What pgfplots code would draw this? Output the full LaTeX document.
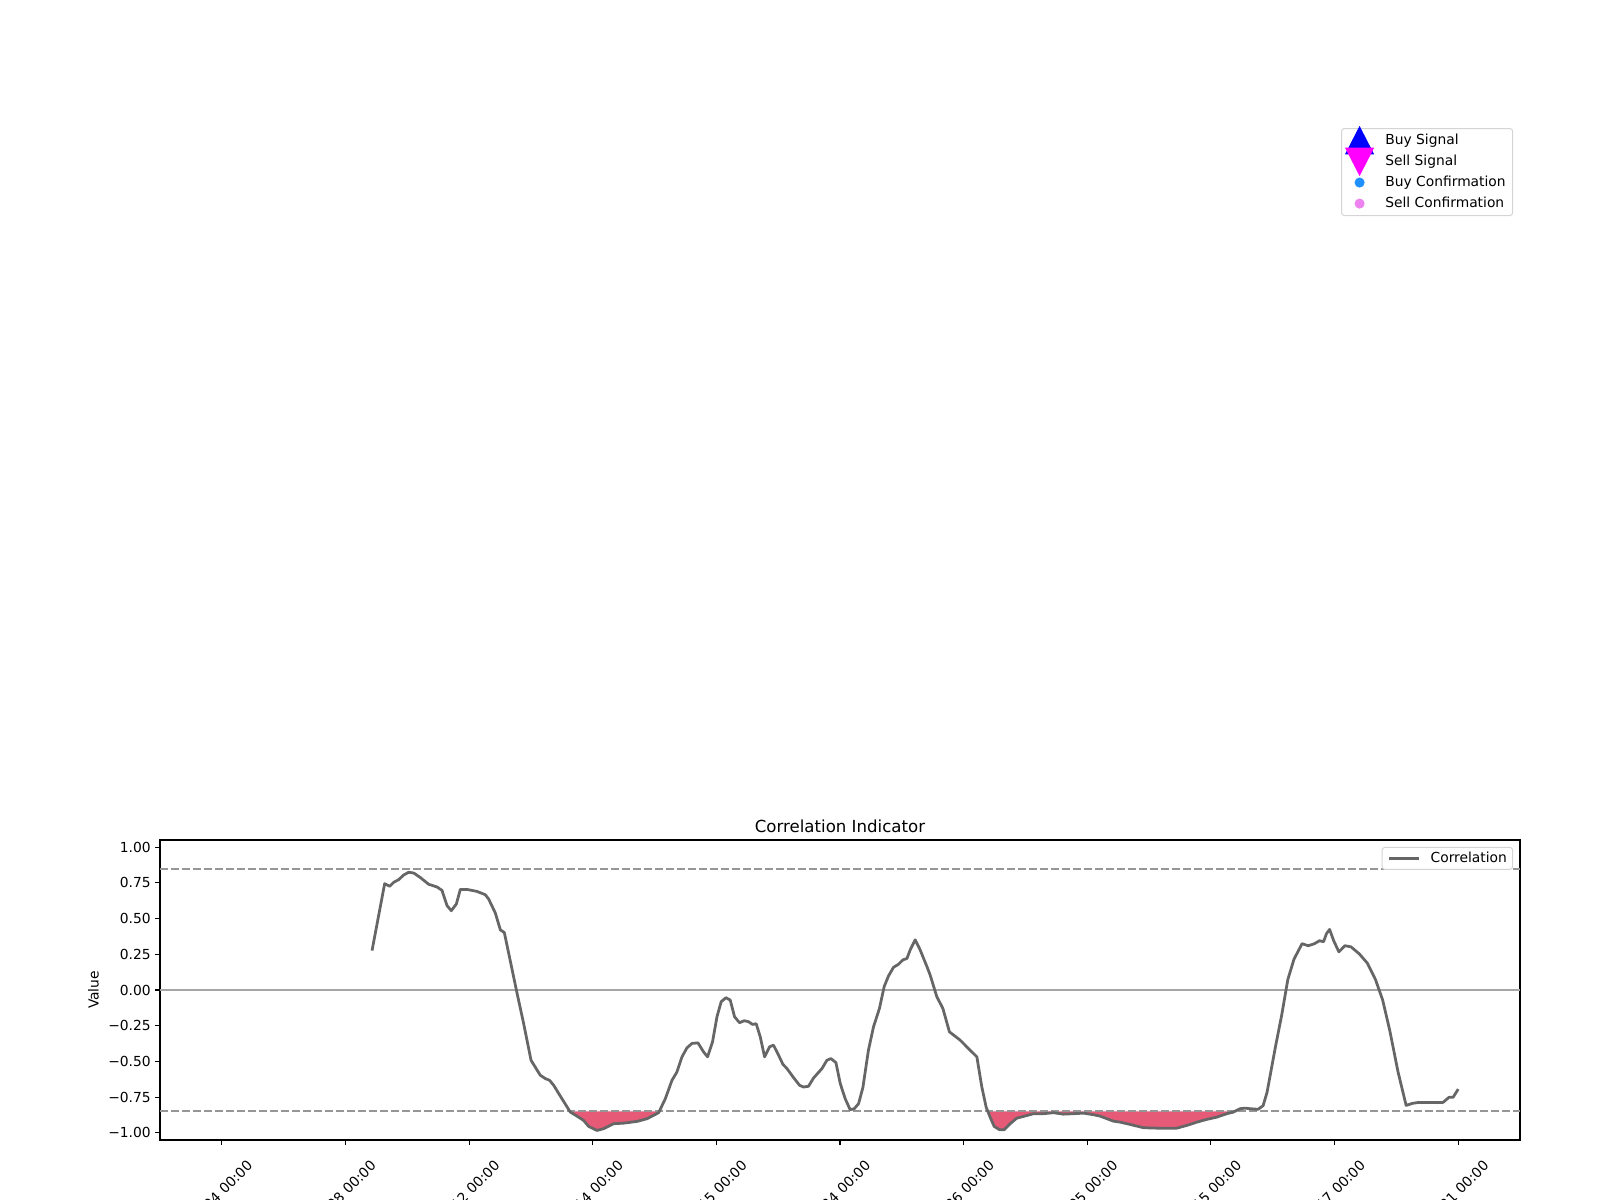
\documentclass[border=0pt]{standalone}
\usepackage{fontspec}
\setmainfont{DejaVu Sans}
\usepackage{pgfplots}
\pgfplotsset{compat=1.18}
\usepackage{pgfplotstable}
\definecolor{corrline}{RGB}{102,102,102}
\definecolor{zeroline}{RGB}{166,166,166}
\definecolor{dashline}{RGB}{150,150,150}
\definecolor{fillred}{RGB}{231,90,119}
\definecolor{legframe}{RGB}{212,212,212}
\definecolor{dodger}{RGB}{30,144,255}
\definecolor{violetc}{RGB}{238,130,238}
\definecolor{pureblue}{RGB}{0,0,255}
\definecolor{puremagenta}{RGB}{255,0,255}

\pgfplotstableread{
x y
1.215 0.276
1.317 0.744
1.358 0.726
1.390 0.754
1.430 0.772
1.471 0.805
1.511 0.824
1.552 0.819
1.606 0.787
1.673 0.740
1.741 0.721
1.781 0.697
1.822 0.590
1.856 0.555
1.897 0.602
1.929 0.704
1.983 0.704
2.064 0.690
2.131 0.667
2.158 0.637
2.212 0.539
2.253 0.421
2.285 0.402
2.320 0.258
2.388 -0.023
2.441 -0.234
2.501 -0.492
2.576 -0.597
2.616 -0.620
2.651 -0.632
2.684 -0.667
2.751 -0.761
2.819 -0.855
2.873 -0.883
2.926 -0.913
2.967 -0.955
3.034 -0.983
3.088 -0.971
3.169 -0.936
3.250 -0.932
3.358 -0.920
3.439 -0.901
3.533 -0.859
3.587 -0.761
3.641 -0.632
3.681 -0.574
3.722 -0.468
3.762 -0.405
3.803 -0.374
3.851 -0.370
3.896 -0.433
3.929 -0.468
3.969 -0.363
4.005 -0.187
4.039 -0.082
4.077 -0.054
4.112 -0.070
4.147 -0.187
4.187 -0.229
4.225 -0.215
4.260 -0.222
4.293 -0.241
4.322 -0.236
4.355 -0.328
4.390 -0.468
4.430 -0.398
4.462 -0.386
4.503 -0.456
4.538 -0.520
4.571 -0.550
4.624 -0.613
4.673 -0.667
4.705 -0.679
4.745 -0.674
4.786 -0.616
4.854 -0.550
4.894 -0.492
4.926 -0.480
4.967 -0.508
5.002 -0.655
5.042 -0.761
5.082 -0.838
5.115 -0.831
5.150 -0.796
5.185 -0.683
5.230 -0.421
5.271 -0.258
5.319 -0.129
5.357 0.023
5.392 0.098
5.433 0.159
5.473 0.180
5.509 0.211
5.541 0.220
5.568 0.281
5.608 0.351
5.648 0.281
5.703 0.164
5.729 0.105
5.783 -0.047
5.832 -0.129
5.885 -0.293
5.972 -0.351
6.039 -0.410
6.107 -0.468
6.147 -0.679
6.182 -0.820
6.214 -0.890
6.247 -0.955
6.290 -0.978
6.328 -0.978
6.376 -0.936
6.430 -0.897
6.484 -0.885
6.565 -0.866
6.645 -0.866
6.726 -0.859
6.807 -0.869
6.888 -0.866
6.969 -0.862
7.050 -0.873
7.104 -0.883
7.211 -0.918
7.265 -0.925
7.346 -0.941
7.454 -0.964
7.562 -0.967
7.724 -0.967
7.805 -0.948
7.886 -0.925
7.966 -0.906
8.047 -0.890
8.128 -0.866
8.181 -0.855
8.236 -0.831
8.276 -0.827
8.317 -0.831
8.381 -0.835
8.422 -0.810
8.454 -0.716
8.523 -0.393
8.572 -0.178
8.622 0.073
8.672 0.216
8.737 0.324
8.787 0.310
8.837 0.324
8.878 0.345
8.911 0.338
8.935 0.395
8.960 0.424
8.993 0.345
9.035 0.267
9.084 0.310
9.133 0.302
9.200 0.253
9.265 0.188
9.331 0.073
9.389 -0.070
9.447 -0.285
9.513 -0.572
9.579 -0.808
9.628 -0.794
9.678 -0.787
9.761 -0.787
9.877 -0.787
9.926 -0.751
9.959 -0.751
10.000 -0.694
}\corrdata

% parts of the series below the -0.85 threshold (filled)
\pgfplotstableread{
x y
2.815 -0.850
2.819 -0.855
2.873 -0.883
2.926 -0.913
2.967 -0.955
3.034 -0.983
3.088 -0.971
3.169 -0.936
3.250 -0.932
3.358 -0.920
3.439 -0.901
3.533 -0.859
3.538 -0.850
}\belowA
\pgfplotstableread{
x y
6.196 -0.850
6.214 -0.890
6.247 -0.955
6.290 -0.978
6.328 -0.978
6.376 -0.936
6.430 -0.897
6.484 -0.885
6.565 -0.866
6.645 -0.866
6.726 -0.859
6.807 -0.869
6.888 -0.866
6.969 -0.862
7.050 -0.873
7.104 -0.883
7.211 -0.918
7.265 -0.925
7.346 -0.941
7.454 -0.964
7.562 -0.967
7.724 -0.967
7.805 -0.948
7.886 -0.925
7.966 -0.906
8.047 -0.890
8.128 -0.866
8.181 -0.855
8.193 -0.850
}\belowB

\begin{document}
\begin{tikzpicture}
% upper (empty) panel holding the signal legend
\begin{axis}[
  at={(1.6in,4.8in)}, anchor=south west,
  width=13.6in, height=6in, scale only axis,
  hide axis, xmin=0, xmax=1, ymin=0, ymax=1,
  legend cell align=left,
  legend style={at={(rel axis cs:1,1)}, anchor=north east,
    xshift=-5pt, yshift=-5.8pt, draw=legframe, line width=0.72pt,
    rounded corners=2pt, fill=white, inner xsep=5pt, inner ysep=3.4pt,
    row sep=4.7pt, column sep=10.6pt,
    font=\fontsize{10}{12}\selectfont,
    nodes={inner sep=0pt, text height=8pt, text depth=2.5pt}},
]
\addlegendimage{legend image code/.code={
  \path[draw=none, fill=none] (0pt,-3pt) rectangle (16pt,3pt);
  \fill[overlay, sharp corners, pureblue] (8pt,9.75pt) -- (-2pt,-9.75pt) -- (18pt,-9.75pt) -- cycle;}}
\addlegendentry{Buy Signal}
\addlegendimage{legend image code/.code={
  \path[draw=none, fill=none] (0pt,-3pt) rectangle (16pt,3pt);
  \fill[overlay, sharp corners, puremagenta] (8pt,-9.75pt) -- (-2pt,9.75pt) -- (18pt,9.75pt) -- cycle;}}
\addlegendentry{Sell Signal}
\addlegendimage{legend image code/.code={
  \path[draw=none, fill=none] (0pt,-3pt) rectangle (16pt,3pt);
  \fill[overlay, dodger] (8pt,0pt) circle[radius=3.25pt];}}
\addlegendentry{Buy Confirmation}
\addlegendimage{legend image code/.code={
  \path[draw=none, fill=none] (0pt,-3pt) rectangle (16pt,3pt);
  \fill[overlay, violetc] (8pt,0pt) circle[radius=3.25pt];}}
\addlegendentry{Sell Confirmation}
\end{axis}

% correlation panel
\begin{axis}[
  at={(1.6in,0.6in)}, anchor=south west,
  width=13.6in, height=3in, scale only axis,
  xmin=-0.5, xmax=10.5, ymin=-1.05, ymax=1.05,
  axis line style={line width=0.8pt, black},
  tick align=outside, xtick pos=left, ytick pos=left,
  major tick length=3.5pt,
  every tick/.style={line width=0.8pt, black},
  tick label style={font=\fontsize{10}{12}\selectfont},
  xtick={0,1,2,3,4,5,6,7,8,9,10},
  xticklabels={2024-01-04 00:00,2024-01-08 00:00,2024-01-12 00:00,2024-01-14 00:00,2024-01-15 00:00,2024-01-24 00:00,2024-01-26 00:00,2024-02-05 00:00,2024-02-15 00:00,2024-02-17 00:00,2024-02-21 00:00},
  xticklabel style={inner sep=0pt, xshift=20.3pt, yshift=-13pt, rotate=45, anchor=east},
  ytick={-1,-0.75,-0.5,-0.25,0,0.25,0.5,0.75,1},
  yticklabels={−1.00,−0.75,−0.50,−0.25,0.00,0.25,0.50,0.75,1.00},
  yticklabel style={inner sep=0pt, anchor=east, xshift=-3pt},
  ylabel={Value},
  every axis y label/.style={at={(rel axis cs:0,0.5)}, xshift=-48.1pt, rotate=90, anchor=center, font=\fontsize{10}{12}\selectfont},
  title={Correlation Indicator},
  title style={font=\fontsize{12}{14}\selectfont, anchor=base, yshift=-0.6pt},
  legend cell align=left,
  legend style={at={(rel axis cs:1,1)}, anchor=north east,
    xshift=-5pt, yshift=-5pt, draw=legframe, line width=0.72pt,
    rounded corners=2pt, fill=white, inner xsep=4.1pt, inner ysep=2.7pt,
    column sep=7.2pt, font=\fontsize{10}{12}\selectfont,
    nodes={inner sep=0pt, text height=8pt, text depth=2.5pt}},
]
\addplot[fill=fillred, draw=none, forget plot] table[x=x, y=y] {\belowA};
\addplot[fill=fillred, draw=none, forget plot] table[x=x, y=y] {\belowB};
\addplot[zeroline, line width=1.5pt, forget plot] coordinates {(-0.5,0) (10.5,0)};
\addplot[dashline, line width=1.5pt, dash pattern=on 5.55pt off 2.4pt, forget plot] coordinates {(-0.5,0.85) (10.5,0.85)};
\addplot[dashline, line width=1.5pt, dash pattern=on 5.55pt off 2.4pt, forget plot] coordinates {(-0.5,-0.85) (10.5,-0.85)};
\addplot[corrline, line width=2pt, line join=round,
  legend image code/.code={\draw[corrline, line width=2pt, sharp corners] (0pt,0pt) -- (21.7pt,0pt);}]
  table[x=x, y=y] {\corrdata};
\addlegendentry{Correlation}
\end{axis}
\pgfresetboundingbox
\useasboundingbox (0,0) rectangle (16in,12in);
\end{tikzpicture}
\end{document}
